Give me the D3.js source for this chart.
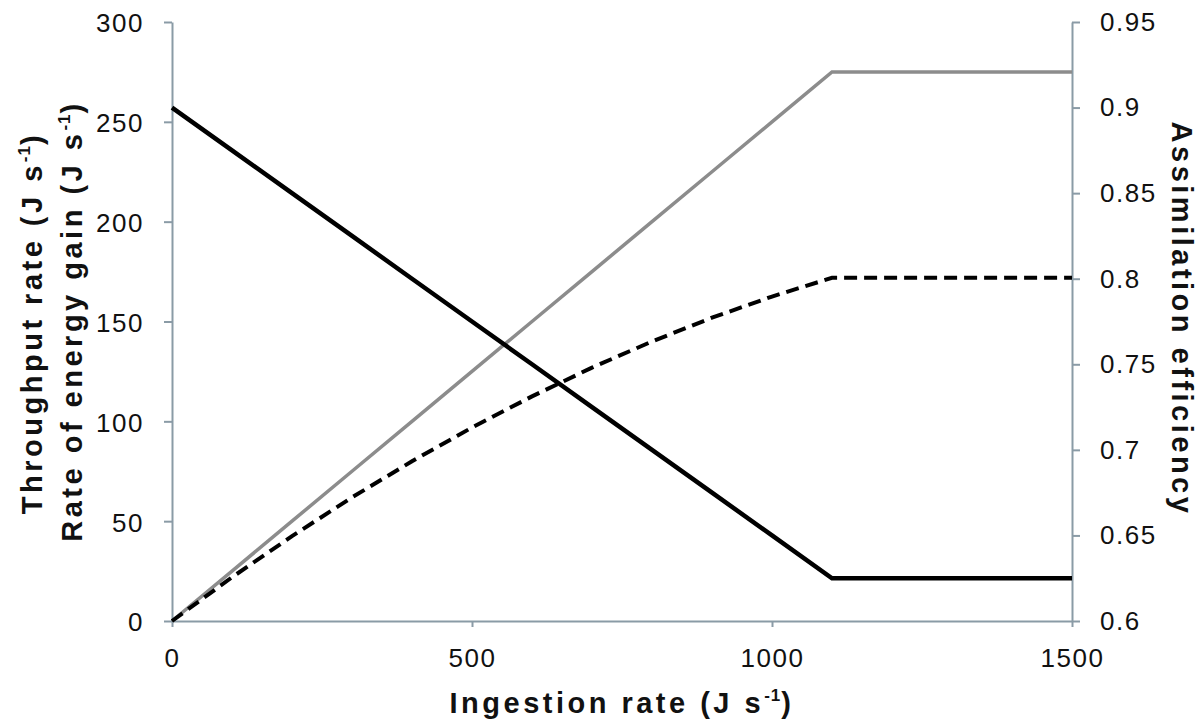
<!DOCTYPE html>
<html>
<head>
<meta charset="utf-8">
<script src="https://cdn.jsdelivr.net/npm/d3@7"></script>
<style>
  html, body { margin: 0; padding: 0; background: #ffffff; }
  svg { display: block; }
  text { font-family: "Liberation Sans", Arial, sans-serif; fill: #111; }
</style>
</head>
<body>
<svg id="chart" width="1204" height="722"></svg>
<script>
// Ingestion rate (J s-1)
const ingestion = [0, 100, 200, 300, 400, 500, 600, 700, 800, 900, 1000, 1100, 1200, 1300, 1400, 1500];
// Throughput rate (J s-1), left axis
const throughput = [0, 25, 50, 75, 100, 125, 150, 175, 200, 225, 250, 275, 275, 275, 275, 275];
// Rate of energy gain (J s-1), left axis
const energyGain = [0, 21.9, 42.5, 61.9, 80, 96.9, 112.5, 126.9, 140, 151.9, 162.5, 171.9, 171.9, 171.9, 171.9, 171.9];
// Assimilation efficiency, right axis
const efficiency = [0.9, 0.875, 0.85, 0.825, 0.8, 0.775, 0.75, 0.725, 0.7, 0.675, 0.65, 0.625, 0.625, 0.625, 0.625, 0.625];

const xTicks = [0, 500, 1000, 1500];
const leftTicks = [0, 50, 100, 150, 200, 250, 300];
const rightTicks = [0.6, 0.65, 0.7, 0.75, 0.8, 0.85, 0.9, 0.95];

const svg = d3.select("#chart");
const m = { left: 172, right: 1072, top: 22, bottom: 621 };
const axisColor = "#8a9ba6";

const x = d3.scaleLinear().domain([0, 1500]).range([m.left, m.right]);
const yL = d3.scaleLinear().domain([0, 300]).range([m.bottom, m.top]);
const yR = d3.scaleLinear().domain([0.6, 0.95]).range([m.bottom, m.top]);

function styleAxis(g) {
  g.select(".domain").attr("stroke", axisColor).attr("stroke-width", 2);
  g.selectAll(".tick line").attr("stroke", axisColor).attr("stroke-width", 2);
  g.selectAll(".tick text").attr("font-size", 26).attr("fill", "#111")
    .attr("letter-spacing", 1.5)
    .attr("font-family", "'Liberation Sans', Arial, sans-serif");
}

// Axes
svg.append("g")
  .attr("transform", `translate(0,${m.bottom})`)
  .call(d3.axisBottom(x).tickValues(xTicks).tickSize(6).tickPadding(22).tickSizeOuter(0).tickFormat(d3.format("d")))
  .call(styleAxis);

svg.append("g")
  .attr("transform", `translate(${m.left},0)`)
  .call(d3.axisLeft(yL).tickValues(leftTicks).tickSize(8).tickPadding(20).tickSizeOuter(0).tickFormat(d3.format("d")))
  .call(styleAxis)
  .selectAll(".tick text").attr("dy", "0.38em");

svg.append("g")
  .attr("transform", `translate(${m.right},0)`)
  .call(d3.axisRight(yR).tickValues(rightTicks).tickSize(8).tickPadding(20).tickSizeOuter(0).tickFormat(d => String(+d.toFixed(2))))
  .call(styleAxis);

// Series
const pts = (vals) => ingestion.map((v, i) => [v, vals[i]]);
const lineL = d3.line().x(d => x(d[0])).y(d => yL(d[1]));
const lineR = d3.line().x(d => x(d[0])).y(d => yR(d[1]));

svg.append("path").datum(pts(throughput)).attr("d", lineL)
  .attr("fill", "none").attr("stroke", "#8c8c8c").attr("stroke-width", 3.5);

svg.append("path").datum(pts(energyGain)).attr("d", lineL)
  .attr("fill", "none").attr("stroke", "#000").attr("stroke-width", 4)
  .attr("stroke-dasharray", "13,7");

svg.append("path").datum(pts(efficiency)).attr("d", lineR)
  .attr("fill", "none").attr("stroke", "#000").attr("stroke-width", 4.5);

// Axis titles
const cy = 319;
function title(xp, yp, rot, label) {
  const t = svg.append("text")
    .attr("transform", `translate(${xp},${yp}) rotate(${rot})`)
    .attr("text-anchor", "middle")
    .attr("font-size", 29).attr("font-weight", "bold")
    .attr("letter-spacing", 3.5);
  t.append("tspan").text(label);
  return t;
}
function unitTitle(xp, yp, rot, label) {
  const t = title(xp, yp, rot, label + " (J s");
  t.append("tspan").attr("font-size", 17).attr("dy", -12).attr("letter-spacing", 1).text("-1");
  t.append("tspan").attr("dy", 12).text(")");
}

unitTitle((m.left + m.right) / 2, 713, 0, "Ingestion rate");
unitTitle(42, cy + 4, -90, "Throughput rate");
unitTitle(82, cy + 2, -90, "Rate of energy gain");
title(1172, cy, 90, "Assimilation efficiency");
</script>
</body>
</html>
